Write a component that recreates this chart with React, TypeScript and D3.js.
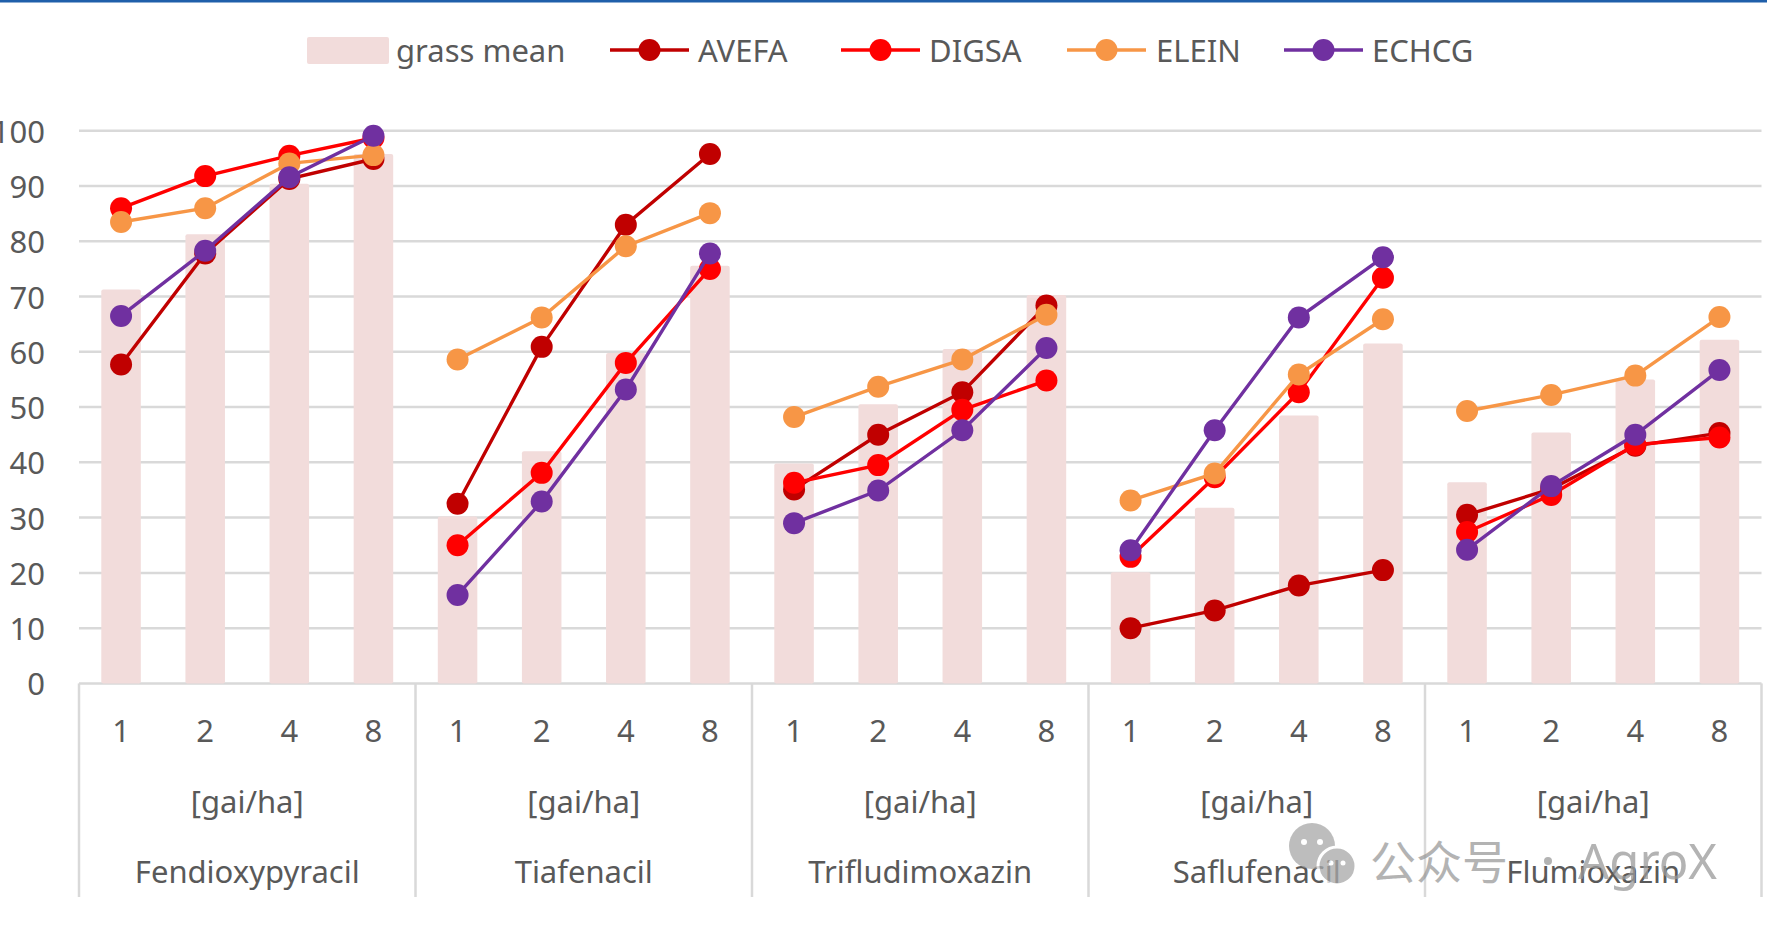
import React from "react";
import * as d3 from "d3";

const groups = ["Fendioxypyracil", "Tiafenacil", "Trifludimoxazin", "Saflufenacil", "Flumioxazin"];
const doses = ["1", "2", "4", "8"];
const unitLabel = "[gai/ha]";
const yTicks = [0, 10, 20, 30, 40, 50, 60, 70, 80, 90, 100];

const grassMean = [71.3, 81.3, 90.4, 95.8, 30.2, 42.0, 59.8, 75.6, 39.8, 50.5, 60.5, 70.3, 20.1, 31.8, 48.5, 61.5, 36.4, 45.4, 55.0, 62.2];
const avefa = [57.7, 77.8, 91.3, 94.9, 32.5, 60.9, 83.0, 95.8, 35.1, 45.0, 52.7, 68.4, 10.0, 13.2, 17.7, 20.5, 30.5, 35.2, 43.0, 45.3];
const digsa = [86.0, 91.8, 95.5, 98.7, 25.0, 38.1, 58.0, 75.0, 36.3, 39.5, 49.5, 54.8, 22.9, 37.3, 52.7, 73.4, 27.4, 34.1, 43.2, 44.5];
const elein = [83.5, 86.0, 94.1, 95.6, 58.6, 66.2, 79.1, 85.1, 48.2, 53.7, 58.6, 66.7, 33.1, 38.0, 55.9, 65.9, 49.3, 52.2, 55.7, 66.3];
const echcg = [66.5, 78.3, 91.6, 99.1, 16.0, 32.9, 53.2, 77.8, 29.0, 34.9, 45.8, 60.7, 24.1, 45.8, 66.2, 77.1, 24.2, 35.7, 45.0, 56.7];

const series = [
  { name: "AVEFA", values: avefa, color: "#C00000" },
  { name: "DIGSA", values: digsa, color: "#FF0000" },
  { name: "ELEIN", values: elein, color: "#F79646" },
  { name: "ECHCG", values: echcg, color: "#7030A0" },
];

const W = 1767;
const H = 930;
const left = 79;
const right = 1761.5;
const y0px = 683.4;
const y100px = 130.8;
const bottom = 897;
const font = "'Noto Sans', 'Open Sans', sans-serif";
const fs = 31;
const textColor = "#595959";
const gridColor = "#D9D9D9";
const barColor = "#F2DCDB";

// one key per category: group index + dose
const keys = groups.flatMap((g, gi) => doses.map((d) => `${gi}-${d}`));

export default function App() {
  const x = d3.scaleBand<string>().domain(keys).range([left, right]).padding(0);
  const y = d3.scaleLinear().domain([0, 100]).range([y0px, y100px]);
  const bw = x.bandwidth();
  const barW = bw * 0.47;
  const groupW = bw * doses.length;
  const cx = (i: number) => (x(keys[i]) as number) + bw / 2;

  // lines only join the doses inside one herbicide group
  const segPath = (vals: number[], gi: number) => {
    const pts = doses.map((_, k) => [cx(gi * 4 + k), y(vals[gi * 4 + k])] as [number, number]);
    return d3.line()(pts) || "";
  };

  const legendItems = [
    { x1: 610, x2: 689, tx: 698 },
    { x1: 841, x2: 920, tx: 929 },
    { x1: 1067, x2: 1146, tx: 1156 },
    { x1: 1284, x2: 1363, tx: 1372 },
  ];
  const legendY = 50;

  return (
    <svg
      width={W}
      height={H}
      style={{ position: "absolute", left: 0, top: 0, display: "block", background: "#fff" }}
      fontFamily={font}
    >
      <rect x={0} y={0} width={W} height={H} fill="#fff" />
      <line x1={0} x2={W} y1={1} y2={1} stroke="#1F5FAA" strokeWidth={3} />

      {/* gridlines */}
      {yTicks.map((t) => (
        <line key={t} x1={left} x2={right} y1={y(t)} y2={y(t)} stroke={gridColor} strokeWidth={2.5} />
      ))}

      {/* y labels */}
      {yTicks.map((t) => (
        <text
          key={"l" + t}
          x={45}
          y={y(t)}
          textAnchor="end"
          dominantBaseline="central"
          fontSize={fs}
          fill={textColor}
        >
          {t}
        </text>
      ))}

      {/* bars */}
      {grassMean.map((v, i) => (
        <rect
          key={"b" + i}
          x={cx(i) - barW / 2}
          y={y(v)}
          width={barW}
          height={y(0) - y(v)}
          fill={barColor}
          rx={2}
        />
      ))}

      {/* category axis frame */}
      {d3.range(groups.length + 1).map((gi) => (
        <line
          key={"sep" + gi}
          x1={left + gi * groupW}
          x2={left + gi * groupW}
          y1={y0px}
          y2={bottom}
          stroke={gridColor}
          strokeWidth={2.5}
        />
      ))}

      {keys.map((k, i) => (
        <text
          key={"t" + k}
          x={cx(i)}
          y={730}
          textAnchor="middle"
          dominantBaseline="central"
          fontSize={fs}
          fill={textColor}
        >
          {doses[i % 4]}
        </text>
      ))}
      {groups.map((g, gi) => (
        <g key={"g" + g}>
          <text
            x={left + gi * groupW + groupW / 2}
            y={801}
            textAnchor="middle"
            dominantBaseline="central"
            fontSize={fs}
            fill={textColor}
          >
            {unitLabel}
          </text>
          <text
            x={left + gi * groupW + groupW / 2}
            y={871}
            textAnchor="middle"
            dominantBaseline="central"
            fontSize={fs}
            fill={textColor}
          >
            {g}
          </text>
        </g>
      ))}

      {/* series */}
      {series.map((s) => (
        <g key={s.name}>
          {groups.map((_, gi) => (
            <path key={gi} d={segPath(s.values, gi)} fill="none" stroke={s.color} strokeWidth={3.4} />
          ))}
          {s.values.map((v, i) => (
            <circle key={i} cx={cx(i)} cy={y(v)} r={11} fill={s.color} />
          ))}
        </g>
      ))}

      {/* legend */}
      <rect x={307} y={37} width={82} height={27} fill={barColor} rx={2} />
      <text x={396} y={legendY} dominantBaseline="central" fontSize={fs} fill={textColor}>
        grass mean
      </text>
      {series.map((s, i) => {
        const it = legendItems[i];
        return (
          <g key={"lg" + s.name}>
            <line x1={it.x1} x2={it.x2} y1={legendY} y2={legendY} stroke={s.color} strokeWidth={3.5} />
            <circle cx={(it.x1 + it.x2) / 2} cy={legendY} r={11} fill={s.color} />
            <text x={it.tx} y={legendY} dominantBaseline="central" fontSize={fs} fill={textColor}>
              {s.name}
            </text>
          </g>
        );
      })}

      {/* watermark */}
      <g opacity={0.75}>
        <circle cx={1312} cy={846} r={23} fill="#A8A8A8" />
        <circle cx={1304} cy={842} r={3} fill="#fff" />
        <circle cx={1320} cy={842} r={3} fill="#fff" />
        <circle cx={1337} cy={866} r={19} fill="#A8A8A8" stroke="#fff" strokeWidth={3} />
        <circle cx={1331} cy={863} r={2.5} fill="#fff" />
        <circle cx={1343} cy={863} r={2.5} fill="#fff" />
        <text x={1370} y={879} fontSize={46} fill="#9A9A9A" fontFamily="'Noto Sans CJK SC', sans-serif">
          公众号
        </text>
        <circle cx={1548} cy={861} r={4} fill="#9A9A9A" />
        <text x={1578} y={879} fontSize={49} fill="#9A9A9A">
          AgroX
        </text>
      </g>
    </svg>
  );
}
